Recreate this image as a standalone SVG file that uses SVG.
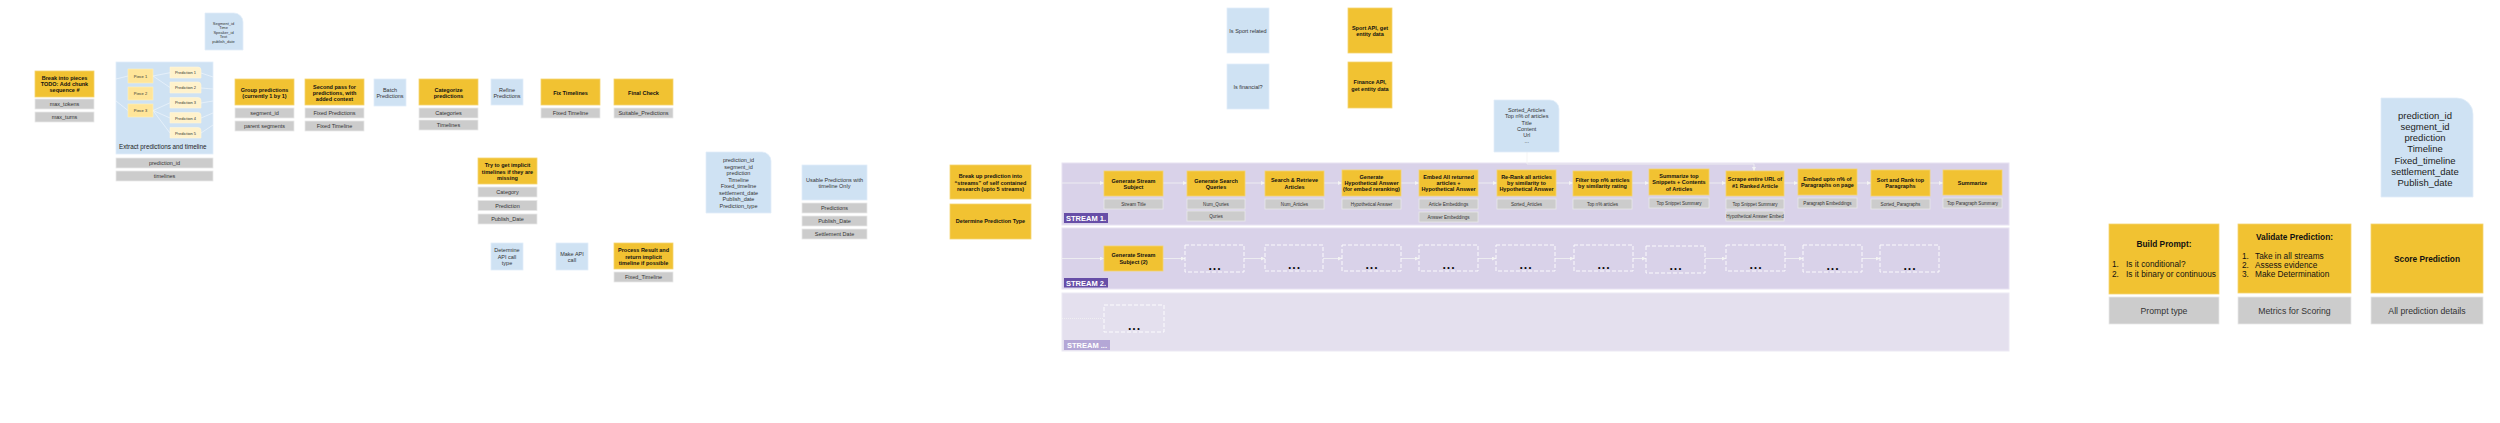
<svg xmlns="http://www.w3.org/2000/svg" width="2500" height="423" viewBox="0 0 2500 423">
<style>
.y{fill:#f1c232;stroke:#f5d570;stroke-width:0.8}
.g{fill:#cccccc;stroke:#e8e8e8;stroke-width:0.8}
.b{fill:#cfe2f3;stroke:#e2eef9;stroke-width:0.8}
.pc{fill:#ffe599;stroke:#fff0c0;stroke-width:0.6}
.pr{fill:#fff2cc;stroke:#fff7de;stroke-width:0.6}
.band{fill:#d9d2e9;stroke:#e7e2f2;stroke-width:1}
.band3{fill:#e4e0ee;stroke:#ece9f4;stroke-width:1}
.dash{fill:none;stroke:#ffffff;stroke-width:0.9;stroke-dasharray:4 2}
text{font-family:"Liberation Sans",Arial,sans-serif;dominant-baseline:central;text-anchor:middle}
.tb{font-size:5.5px;font-weight:bold;fill:#111}
.tn{font-size:5.5px;fill:#333}
.tg{font-size:5.5px;fill:#333}
.ts{font-size:4.6px;fill:#333}
.tx{font-size:4px;fill:#333}
.lbl{font-size:7.5px;font-weight:bold;fill:#ffffff}
.dots{font-size:7px;font-weight:bold;fill:#000}
.big{font-size:8.3px;fill:#111}
.bigb{font-size:8.3px;font-weight:bold;fill:#111}
.bigg{font-size:8.7px;fill:#333}
.conn{fill:none;stroke:#f3f3f3;stroke-width:0.8}
.inner{fill:none;stroke:#eef5fc;stroke-width:0.7}
</style>
<defs>
<marker id="a" markerWidth="4" markerHeight="4" refX="4" refY="2" orient="auto" markerUnits="userSpaceOnUse"><path d="M0,0 L4,2 L0,4 z" fill="#f3f3f3"/></marker>
</defs>
<rect width="2500" height="423" fill="#ffffff"/>

<!-- stream bands -->
<g id="stream1">
<rect class="band" x="1062" y="163" width="947" height="62"/>
<rect x="1064" y="213" width="44" height="10" fill="#674ea7"/>
<text class="lbl" x="1086" y="218.3">STREAM 1.</text>
</g>
<g id="stream2">
<rect class="band" x="1062" y="228" width="947" height="61"/>
<rect x="1064" y="278" width="44" height="9.5" fill="#674ea7"/>
<text class="lbl" x="1086" y="283">STREAM 2.</text>
</g>
<g id="stream3">
<rect class="band3" x="1062" y="293" width="947" height="58"/>
<rect x="1064" y="340" width="46" height="10" fill="#b4a7d6"/>
<text class="lbl" x="1087" y="345.3">STREAM ...</text>
</g>

<!-- connectors -->
<g id="connectors">
<path class="conn" marker-end="url(#a)" d="M1062,183 H1104"/>
<path class="conn" marker-end="url(#a)" d="M1163,183 H1187"/>
<path class="conn" marker-end="url(#a)" d="M1245,183 H1265"/>
<path class="conn" marker-end="url(#a)" d="M1324,183 H1342"/>
<path class="conn" marker-end="url(#a)" d="M1401,183 H1419"/>
<path class="conn" marker-end="url(#a)" d="M1478,183 H1497"/>
<path class="conn" marker-end="url(#a)" d="M1556,183 H1573"/>
<path class="conn" marker-end="url(#a)" d="M1632,183 H1649"/>
<path class="conn" marker-end="url(#a)" d="M1709,183 H1726"/>
<path class="conn" marker-end="url(#a)" d="M1784,183 H1798"/>
<path class="conn" marker-end="url(#a)" d="M1857,183 H1871"/>
<path class="conn" marker-end="url(#a)" d="M1930,183 H1943"/>
<path class="conn" marker-end="url(#a)" d="M1527,152 V164 H1754 V171"/>
<path class="conn" marker-end="url(#a)" d="M1062,258.5 H1104"/>
<path class="conn" marker-end="url(#a)" d="M1163,258.5 H1185"/>
<path class="conn" marker-end="url(#a)" d="M1244,258.5 H1265"/>
<path class="conn" marker-end="url(#a)" d="M1323,258.5 H1342"/>
<path class="conn" marker-end="url(#a)" d="M1401,258.5 H1419"/>
<path class="conn" marker-end="url(#a)" d="M1478,258.5 H1496"/>
<path class="conn" marker-end="url(#a)" d="M1555,258.5 H1574"/>
<path class="conn" marker-end="url(#a)" d="M1633,258.5 H1646"/>
<path class="conn" marker-end="url(#a)" d="M1705,258.5 H1726"/>
<path class="conn" marker-end="url(#a)" d="M1785,258.5 H1803"/>
<path class="conn" marker-end="url(#a)" d="M1862,258.5 H1880"/>
<path class="conn" stroke-dasharray="1 1" d="M1062,318.5 H1104"/>
</g>

<!-- left section -->
<g id="break-pieces">
<rect class="y" x="35" y="71" width="59" height="26"/>
<text class="tb"><tspan x="64.5" y="77.7">Break into pieces</tspan><tspan x="64.5" y="84">TODO: Add chunk</tspan><tspan x="64.5" y="90.3">sequence #</tspan></text>
<rect class="g" x="35" y="99" width="59" height="10"/>
<text class="tg" x="64.5" y="104">max_tokens</text>
<rect class="g" x="35" y="112" width="59" height="10"/>
<text class="tg" x="64.5" y="117">max_turns</text>
</g>

<g id="segment-data">
<path class="b" d="M205,13 H234 A9,9 0 0 1 243,22 V50 H205 Z"/>
<text class="tx"><tspan x="223.5" y="22.5">Segment_id</tspan><tspan x="223.5" y="27">Time</tspan><tspan x="223.5" y="31.7">Speaker_id</tspan><tspan x="223.5" y="36.3">Text</tspan><tspan x="223.5" y="41">publish_date</tspan></text>
</g>

<g id="extract">
<rect class="b" x="116" y="62" width="97" height="92"/>
<path class="inner" d="M116,79 L128,76 M116,101 L128,110.5 M153,76 L170,72.7 M153,76 L170,87.5 M153,110.5 L170,102.8 M153,110.5 L170,118 M153,110.5 L170,133 M201,73 L213,77 M201,88 L213,89 M201,103 L213,101 M201,118 L213,113 M201,133 L213,125"/>
<rect class="pc" x="128" y="69" width="25" height="14"/>
<text class="tx" x="140.5" y="76">Piece 1</text>
<rect class="pc" x="128" y="87" width="25" height="13"/>
<text class="tx" x="140.5" y="93.5">Piece 2</text>
<rect class="pc" x="128" y="104" width="25" height="13"/>
<text class="tx" x="140.5" y="110.5">Piece 3</text>
<path class="pr" d="M170,67 H198 A3,3 0 0 1 201,70 V78 H170 Z"/>
<text class="tx" font-size="3.6" x="185.5" y="72.5">Prediction 1</text>
<path class="pr" d="M170,82 H198 A3,3 0 0 1 201,85 V93 H170 Z"/>
<text class="tx" font-size="3.6" x="185.5" y="87.5">Prediction 2</text>
<path class="pr" d="M170,97.5 H198 A3,3 0 0 1 201,100.5 V108 H170 Z"/>
<text class="tx" font-size="3.6" x="185.5" y="102.8">Prediction 3</text>
<path class="pr" d="M170,112.5 H198 A3,3 0 0 1 201,115.5 V123 H170 Z"/>
<text class="tx" font-size="3.6" x="185.5" y="118">Prediction 4</text>
<path class="pr" d="M170,127.5 H198 A3,3 0 0 1 201,130.5 V138 H170 Z"/>
<text class="tx" font-size="3.6" x="185.5" y="133">Prediction 5</text>
<text x="119" y="146" font-size="6.3" fill="#222" style="text-anchor:start">Extract predictions and timeline</text>
<rect class="g" x="116" y="158" width="97" height="10"/>
<text class="tg" x="164.5" y="163">prediction_id</text>
<rect class="g" x="116" y="171" width="97" height="10"/>
<text class="tg" x="164.5" y="176">timelines</text>
</g>

<g id="group-predictions">
<rect class="y" x="235" y="79" width="59" height="26"/>
<text class="tb"><tspan x="264.5" y="89.7">Group predictions</tspan><tspan x="264.5" y="96">(currently 1 by 1)</tspan></text>
<rect class="g" x="235" y="108" width="59" height="10"/>
<text class="tg" x="264.5" y="113">segment_id</text>
<rect class="g" x="235" y="121" width="59" height="10"/>
<text class="tg" x="264.5" y="126">parent segments</text>
</g>

<g id="second-pass">
<rect class="y" x="305" y="79" width="59" height="26"/>
<text class="tb"><tspan x="334.5" y="86.7">Second pass for</tspan><tspan x="334.5" y="93">predictions, with</tspan><tspan x="334.5" y="99.3">added context</tspan></text>
<rect class="g" x="305" y="108" width="59" height="10"/>
<text class="tg" x="334.5" y="113">Fixed Predictions</text>
<rect class="g" x="305" y="121" width="59" height="10"/>
<text class="tg" x="334.5" y="126">Fixed Timeline</text>
</g>

<g id="batch">
<rect class="b" x="374" y="79" width="32" height="27"/>
<text class="tn" font-size="5"><tspan x="390" y="90">Batch</tspan><tspan x="390" y="96">Predictions</tspan></text>
</g>

<g id="categorize">
<rect class="y" x="419" y="79" width="59" height="26"/>
<text class="tb"><tspan x="448.5" y="90">Categorize</tspan><tspan x="448.5" y="96">predictions</tspan></text>
<rect class="g" x="419" y="108" width="59" height="10"/>
<text class="tg" x="448.5" y="113">Categories</text>
<rect class="g" x="419" y="120" width="59" height="10"/>
<text class="tg" x="448.5" y="125">Timelines</text>
</g>

<g id="refine">
<rect class="b" x="491" y="79" width="32" height="26"/>
<text class="tn" font-size="5"><tspan x="507" y="89.7">Refine</tspan><tspan x="507" y="95.7">Predictions</tspan></text>
</g>

<g id="fix-timelines">
<rect class="y" x="541" y="79" width="59" height="26"/>
<text class="tb" x="570.5" y="92.7">Fix Timelines</text>
<rect class="g" x="541" y="108" width="59" height="10"/>
<text class="tg" x="570.5" y="113">Fixed Timeline</text>
</g>

<g id="final-check">
<rect class="y" x="614" y="79" width="59" height="26"/>
<text class="tb" x="643.5" y="92.7">Final Check</text>
<rect class="g" x="614" y="108" width="59" height="10"/>
<text class="tg" x="643.5" y="113">Suitable_Predictions</text>
</g>

<g id="implicit">
<rect class="y" x="478" y="158" width="59" height="26"/>
<text class="tb"><tspan x="507.5" y="165">Try to get implicit</tspan><tspan x="507.5" y="171.7">timelines if they are</tspan><tspan x="507.5" y="178.3">missing</tspan></text>
<rect class="g" x="478" y="187" width="59" height="10"/>
<text class="tg" x="507.5" y="192">Category</text>
<rect class="g" x="478" y="200.5" width="59" height="10"/>
<text class="tg" x="507.5" y="205.5">Prediction</text>
<rect class="g" x="478" y="214" width="59" height="10"/>
<text class="tg" x="507.5" y="219">Publish_Date</text>
</g>

<g id="determine-api">
<rect class="b" x="491" y="243" width="32" height="27"/>
<text class="tn" font-size="5"><tspan x="507" y="250">Determine</tspan><tspan x="507" y="256.7">API call</tspan><tspan x="507" y="263.3">type</tspan></text>
</g>

<g id="make-api">
<rect class="b" x="556" y="243" width="32" height="27"/>
<text class="tn" font-size="5"><tspan x="572" y="253.7">Make API</tspan><tspan x="572" y="259.7">call</tspan></text>
</g>

<g id="process-result">
<rect class="y" x="614" y="243" width="59" height="26"/>
<text class="tb"><tspan x="643.5" y="250">Process Result and</tspan><tspan x="643.5" y="256.5">return implicit</tspan><tspan x="643.5" y="263">timeline if possible</tspan></text>
<rect class="g" x="614" y="272" width="59" height="10"/>
<text class="tg" x="643.5" y="277">Fixed_Timeline</text>
</g>

<g id="prediction-record">
<path class="b" d="M706,152 H762 A9,9 0 0 1 771,161 V213 H706 Z"/>
<text class="tn"><tspan x="738.5" y="160">prediction_id</tspan><tspan x="738.5" y="166.6">segment_id</tspan><tspan x="738.5" y="173.1">prediction</tspan><tspan x="738.5" y="179.6">Timeline</tspan><tspan x="738.5" y="186.1">Fixed_timeline</tspan><tspan x="738.5" y="192.6">settlement_date</tspan><tspan x="738.5" y="199.1">Publish_date</tspan><tspan x="738.5" y="205.6">Prediction_type</tspan></text>
</g>

<g id="usable">
<rect class="b" x="802" y="165" width="65" height="35"/>
<text class="tn"><tspan x="834.5" y="179.7">Usable Predictions with</tspan><tspan x="834.5" y="186">timeline Only</tspan></text>
<rect class="g" x="802" y="203" width="65" height="10"/>
<text class="tg" x="834.5" y="208">Predictions</text>
<rect class="g" x="802" y="216" width="65" height="10"/>
<text class="tg" x="834.5" y="221">Publish_Date</text>
<rect class="g" x="802" y="229" width="65" height="10"/>
<text class="tg" x="834.5" y="234">Settlement Date</text>
</g>

<g id="break-streams">
<rect class="y" x="950" y="165" width="81" height="34"/>
<text class="tb"><tspan x="990.5" y="176">Break up prediction into</tspan><tspan x="990.5" y="182.6">“streams” of self contained</tspan><tspan x="990.5" y="189">research (upto 5 streams)</tspan></text>
</g>

<g id="determine-type">
<rect class="y" x="950" y="204" width="81" height="35"/>
<text class="tb" x="990.5" y="221.3">Determine Prediction Type</text>
</g>

<g id="is-sport">
<rect class="b" x="1227" y="8" width="42" height="45"/>
<text class="tn" x="1248" y="30.7">Is Sport related</text>
</g>
<g id="is-financial">
<rect class="b" x="1227" y="64" width="42" height="45"/>
<text class="tn" x="1248" y="86.7">Is financial?</text>
</g>
<g id="sport-api">
<rect class="y" x="1348" y="8" width="44" height="45"/>
<text class="tb"><tspan x="1370" y="27.7">Sport API, get</tspan><tspan x="1370" y="34">entity data</tspan></text>
</g>
<g id="finance-api">
<rect class="y" x="1348" y="62" width="44" height="46"/>
<text class="tb"><tspan x="1370" y="82">Finance API,</tspan><tspan x="1370" y="88.7">get entity data</tspan></text>
</g>

<g id="sorted-articles-data">
<path class="b" d="M1494,100 H1550 A9,9 0 0 1 1559,109 V152 H1494 Z"/>
<text class="tn" font-size="5.2"><tspan x="1526.7" y="110">Sorted_Articles</tspan><tspan x="1526.7" y="116.3">Top n% of articles</tspan><tspan x="1526.7" y="122.6">Title</tspan><tspan x="1526.7" y="128.9">Content</tspan><tspan x="1526.7" y="135.2">Url</tspan><tspan x="1526.7" y="141">...</tspan></text>
</g>

<!-- stream 1 nodes -->
<g id="s1-subject">
<rect class="y" x="1104" y="171" width="59" height="25"/>
<text class="tb"><tspan x="1133.5" y="180.7">Generate Stream</tspan><tspan x="1133.5" y="187">Subject</tspan></text>
<rect class="g" x="1104" y="199" width="59" height="10"/>
<text class="ts" x="1133.5" y="204">Stream Title</text>
</g>
<g id="s1-queries">
<rect class="y" x="1187" y="171" width="58" height="25"/>
<text class="tb"><tspan x="1216" y="180.7">Generate Search</tspan><tspan x="1216" y="187">Queries</tspan></text>
<rect class="g" x="1187" y="199" width="58" height="10"/>
<text class="ts" x="1216" y="204">Num_Quries</text>
<rect class="g" x="1187" y="211" width="58" height="10"/>
<text class="ts" x="1216" y="216">Quries</text>
</g>
<g id="s1-search">
<rect class="y" x="1265" y="171" width="59" height="25"/>
<text class="tb"><tspan x="1294.5" y="180.3">Search &amp; Retrieve</tspan><tspan x="1294.5" y="186.7">Articles</tspan></text>
<rect class="g" x="1265" y="199" width="59" height="10"/>
<text class="ts" x="1294.5" y="204">Num_Articles</text>
</g>
<g id="s1-hypo">
<rect class="y" x="1342" y="170" width="59" height="26"/>
<text class="tb"><tspan x="1371.5" y="176.7">Generate</tspan><tspan x="1371.5" y="183">Hypothetical Answer</tspan><tspan x="1371.5" y="189.3">(for embed reranking)</tspan></text>
<rect class="g" x="1342" y="199" width="59" height="10"/>
<text class="ts" x="1371.5" y="204">Hypothetical Answer</text>
</g>
<g id="s1-embed">
<rect class="y" x="1419" y="170" width="59" height="26"/>
<text class="tb"><tspan x="1448.5" y="176.7">Embed All returned</tspan><tspan x="1448.5" y="183">articles +</tspan><tspan x="1448.5" y="189.3">Hypothetical Answer</tspan></text>
<rect class="g" x="1419" y="199" width="59" height="10"/>
<text class="ts" x="1448.5" y="204">Article Embeddings</text>
<rect class="g" x="1419" y="212" width="59" height="10"/>
<text class="ts" x="1448.5" y="217">Answer Embeddings</text>
</g>
<g id="s1-rerank">
<rect class="y" x="1497" y="170" width="59" height="26"/>
<text class="tb"><tspan x="1526.5" y="176.7">Re-Rank all articles</tspan><tspan x="1526.5" y="183">by similarity to</tspan><tspan x="1526.5" y="189.3">Hypothetical Answer</tspan></text>
<rect class="g" x="1497" y="199" width="59" height="10"/>
<text class="ts" x="1526.5" y="204">Sorted_Articles</text>
</g>
<g id="s1-filter">
<rect class="y" x="1573" y="171" width="59" height="25"/>
<text class="tb"><tspan x="1602.5" y="180">Filter top n% articles</tspan><tspan x="1602.5" y="186.3">by similarity rating</tspan></text>
<rect class="g" x="1573" y="199" width="59" height="10"/>
<text class="ts" x="1602.5" y="204">Top n% articles</text>
</g>
<g id="s1-summarize-snippets">
<rect class="y" x="1649" y="169" width="60" height="26"/>
<text class="tb"><tspan x="1679" y="176">Summarize top</tspan><tspan x="1679" y="182.3">Snippets + Contents</tspan><tspan x="1679" y="188.7">of Articles</tspan></text>
<rect class="g" x="1649" y="198" width="60" height="10"/>
<text class="ts" x="1679" y="203">Top Snippet Summary</text>
</g>
<g id="s1-scrape">
<rect class="y" x="1726" y="171" width="58" height="25"/>
<text class="tb"><tspan x="1755" y="179.3">Scrape entire URL of</tspan><tspan x="1755" y="185.7">#1 Ranked Article</tspan></text>
<rect class="g" x="1726" y="199" width="58" height="10"/>
<text class="ts" x="1755" y="204">Top Snippet Summary</text>
<rect class="g" x="1726" y="211" width="58" height="10"/>
<text class="ts" font-size="3.8" x="1755" y="216">Hypothetical Answer Embed</text>
</g>
<g id="s1-embed-paragraphs">
<rect class="y" x="1798" y="169" width="59" height="26"/>
<text class="tb"><tspan x="1827.5" y="179">Embed upto n% of</tspan><tspan x="1827.5" y="185.3">Paragraphs on page</tspan></text>
<rect class="g" x="1798" y="198" width="59" height="10"/>
<text class="ts" x="1827.5" y="203">Paragraph Embeddings</text>
</g>
<g id="s1-sort-paragraphs">
<rect class="y" x="1871" y="170" width="59" height="26"/>
<text class="tb"><tspan x="1900.5" y="180">Sort and Rank top</tspan><tspan x="1900.5" y="186.3">Paragraphs</tspan></text>
<rect class="g" x="1871" y="199" width="59" height="10"/>
<text class="ts" x="1900.5" y="204">Sorted_Paragraphs</text>
</g>
<g id="s1-summarize">
<rect class="y" x="1943" y="170" width="59" height="25"/>
<text class="tb" x="1972.5" y="182.7">Summarize</text>
<rect class="g" x="1943" y="198" width="59" height="10"/>
<text class="ts" x="1972.5" y="203">Top Paragraph Summary</text>
</g>

<!-- stream 2 nodes -->
<g id="s2-subject">
<rect class="y" x="1104" y="246" width="59" height="25"/>
<text class="tb"><tspan x="1133.5" y="255.3">Generate Stream</tspan><tspan x="1133.5" y="261.7">Subject (2)</tspan></text>
</g>
<g id="s2-placeholders">
<rect class="dash" x="1185" y="245" width="59" height="27"/><text class="dots" x="1214.5" y="268">• • •</text>
<rect class="dash" x="1265" y="245" width="58" height="26"/><text class="dots" x="1294" y="267.5">• • •</text>
<rect class="dash" x="1342" y="245" width="59" height="26"/><text class="dots" x="1371.5" y="267.5">• • •</text>
<rect class="dash" x="1419" y="245" width="59" height="26"/><text class="dots" x="1448.5" y="267.5">• • •</text>
<rect class="dash" x="1496" y="245" width="59" height="26"/><text class="dots" x="1525.5" y="267.5">• • •</text>
<rect class="dash" x="1574" y="245" width="59" height="26"/><text class="dots" x="1603.5" y="267.5">• • •</text>
<rect class="dash" x="1646" y="246" width="59" height="27"/><text class="dots" x="1675.5" y="268.5">• • •</text>
<rect class="dash" x="1726" y="245" width="59" height="26"/><text class="dots" x="1755.5" y="267.5">• • •</text>
<rect class="dash" x="1803" y="245" width="59" height="27"/><text class="dots" x="1832.5" y="268">• • •</text>
<rect class="dash" x="1880" y="245" width="59" height="27"/><text class="dots" x="1909.5" y="268">• • •</text>
</g>

<!-- stream 3 -->
<g id="s3-placeholder">
<rect class="dash" x="1104" y="305" width="60" height="27"/><text class="dots" x="1134" y="328">• • •</text>
</g>

<!-- right section -->
<g id="final-record">
<path class="b" d="M2381,98 H2457 A16,16 0 0 1 2473,114 V197 H2381 Z"/>
<text font-size="9.5" fill="#222"><tspan x="2425" y="114.7">prediction_id</tspan><tspan x="2425" y="126">segment_id</tspan><tspan x="2425" y="137.2">prediction</tspan><tspan x="2425" y="148.4">Timeline</tspan><tspan x="2425" y="159.6">Fixed_timeline</tspan><tspan x="2425" y="170.8">settlement_date</tspan><tspan x="2425" y="182">Publish_date</tspan></text>
</g>

<g id="build-prompt">
<rect class="y" x="2109" y="224" width="110" height="70"/>
<text class="bigb" x="2164" y="244.3">Build Prompt:</text>
<text class="big" style="text-anchor:start"><tspan x="2112" y="264">1.</tspan><tspan x="2126" y="264">Is it conditional?</tspan><tspan x="2112" y="274.3">2.</tspan><tspan x="2126" y="274.3">Is it binary or continuous</tspan></text>
<rect class="g" x="2109" y="297" width="110" height="27"/>
<text class="bigg" x="2164" y="310.7">Prompt type</text>
</g>

<g id="validate">
<rect class="y" x="2238" y="224" width="113" height="69"/>
<text class="bigb" x="2294.5" y="237">Validate Prediction:</text>
<text class="big" style="text-anchor:start"><tspan x="2242" y="256">1.</tspan><tspan x="2255" y="256">Take in all streams</tspan><tspan x="2242" y="264.8">2.</tspan><tspan x="2255" y="264.8">Assess evidence</tspan><tspan x="2242" y="273.6">3.</tspan><tspan x="2255" y="273.6">Make Determination</tspan></text>
<rect class="g" x="2238" y="297" width="113" height="27"/>
<text class="bigg" x="2294.5" y="310.7">Metrics for Scoring</text>
</g>

<g id="score">
<rect class="y" x="2371" y="224" width="112" height="69"/>
<text class="bigb" x="2427" y="259">Score Prediction</text>
<rect class="g" x="2371" y="297" width="112" height="27"/>
<text class="bigg" x="2427" y="310.7">All prediction details</text>
</g>
</svg>
